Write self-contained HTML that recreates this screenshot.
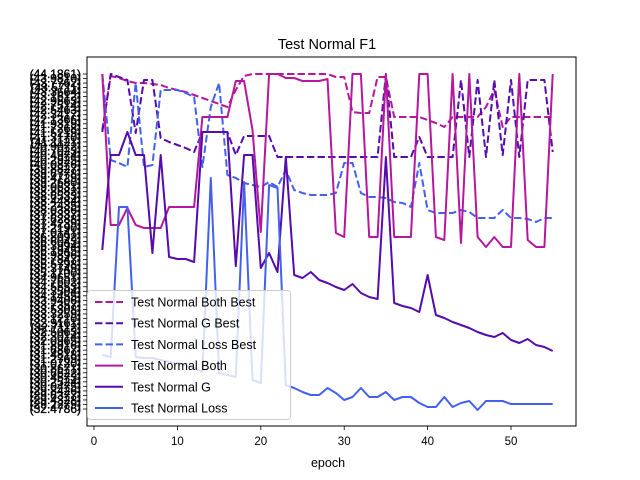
<!DOCTYPE html>
<html><head><meta charset="utf-8"><style>
body{margin:0;background:#fff;}
svg{display:block;font-family:"Liberation Sans","DejaVu Sans",sans-serif;}
</style></head><body>
<svg id="chart" width="640" height="480" viewBox="0 0 640 480">
<rect x="0" y="0" width="640" height="480" fill="#fff"/>
<text x="327" y="49" font-size="14.5" text-anchor="middle">Test Normal F1</text>
<g id="ylab"></g>
<g id="xax"></g>
<g id="plot"></g>
<rect x="87" y="57" width="489" height="369" fill="none" stroke="#000" stroke-width="1"/>
<text x="328" y="467" font-size="12.5" text-anchor="middle">epoch</text>
<g id="legend"></g>
</svg>
<script>
const epochs = [1,2,3,4,5,6,7,8,9,10,11,12,13,14,15,16,17,18,19,20,21,22,23,24,25,26,27,28,29,30,31,32,33,34,35,36,37,38,39,40,41,42,43,44,45,46,47,48,49,50,51,52,53,54,55];
const xTicks = [0,10,20,30,40,50];
// levels measured from bottom category (0 = lowest tick)
const bothBest = [279,333,331,328,326,326,325,324,321,319,317,314,311,308,305,302,319,333,335,335,335,335,335,335,335,335,335,335,332,332,297,296,296,332,332,292,292,292,292,289,286,282,292,292,292,292,302,319,282,292,292,292,292,292,292];
const gBest = [277,335,332,329,276,329,329,271,267,264,261,257,277,277,277,277,254,273,273,273,273,252,252,252,252,252,252,252,252,252,252,252,252,252,335,252,252,252,272,252,252,252,252,329,252,329,252,329,254,329,252,329,329,329,257];
const lossBest = [335,249,246,242,326,242,244,319,319,319,316,312,242,302,326,234,231,226,224,222,227,222,239,219,216,214,214,214,216,246,246,216,212,212,211,207,206,202,246,199,196,196,196,199,197,191,191,191,199,191,191,190,187,191,191];
const both = [335,184,184,201,184,181,181,181,202,202,202,202,292,292,292,292,328,328,279,177,335,335,331,331,328,328,328,330,176,172,335,335,172,172,335,172,172,172,335,335,172,169,335,166,335,172,162,172,162,162,335,169,162,162,335];
const gLine = [159,254,254,277,254,254,156,254,152,150,150,147,277,277,277,277,143,254,254,141,156,137,252,134,131,137,129,126,122,119,125,116,112,110,252,106,103,101,97,134,94,91,87,84,81,77,74,72,76,69,66,70,64,62,58];
const lossLine = [54,52,202,202,52,51,51,49,47,46,44,41,37,231,36,34,32,227,29,26,224,221,24,21,17,14,14,21,16,9,12,21,12,12,17,9,12,12,6,2,2,12,2,6,8,-1,8,8,8,5,5,5,5,5,5];
const yTickLabels = ["44.1861","43.9810","43.7762","43.5711","43.3664","43.1612","42.9563","42.7514","42.5463","42.3417","42.1366","41.9319","41.7268","41.5219","41.3170","41.1121","40.9072","40.7023","40.4974","40.2925","40.0876","39.8827","39.6778","39.4729","39.2680","39.0631","38.8582","38.6533","38.4484","38.2435","38.0386","37.8337","37.6288","37.4239","37.2190","37.0141","36.8092","36.6043","36.3994","36.1945","35.9896","35.7847","35.5798","35.3749","35.1700","34.9651","34.7602","34.5553","34.3504","34.1455","33.9406","33.7357","33.5308","33.3259","33.1210","32.9161","32.7112","32.5063","32.3014","32.0965","31.8916","31.6867","31.4818","31.2769","31.0720","30.8671","30.6622","30.4573","30.2524","30.0475","29.8426","29.6377","29.4328","29.2279","32.4786"];
const NS="http://www.w3.org/2000/svg";
function xs(e){return 94+8.34*e;}
function ys(v){return 409-v;}
function mk(tag,attrs,parent){const el=document.createElementNS(NS,tag);for(const k in attrs)el.setAttribute(k,attrs[k]);parent.appendChild(el);return el;}
const ylab=document.getElementById('ylab');
const n=yTickLabels.length;
yTickLabels.forEach((t,i)=>{
  const y=74+i*(335/(n-1));
  const tk=mk('line',{x1:83,x2:87,y1:y,y2:y,stroke:'#000','stroke-width':0.8},ylab);
  
  
  const tx=mk('text',{x:81,y:y+4,'font-size':12,'text-anchor':'end',stroke:'#000','stroke-width':0.35},ylab);
  tx.textContent='('+t+')';
  
  
});
const xax=document.getElementById('xax');
xTicks.forEach(t=>{
  const x=xs(t);
  const tk=mk('line',{x1:x,x2:x,y1:426,y2:430,stroke:'#000','stroke-width':0.8},xax);
  
  
  const tx=mk('text',{x:x,y:445,'font-size':11.5,'text-anchor':'middle'},xax);
  tx.textContent=String(t);
  
  
});
const series=[
  {name:'Test Normal Both Best',data:bothBest,color:'#b5179e',dash:'7.4,3.2',key:'both-best'},
  {name:'Test Normal G Best',data:gBest,color:'#560bad',dash:'7.4,3.2',key:'g-best'},
  {name:'Test Normal Loss Best',data:lossBest,color:'#4361ee',dash:'7.4,3.2',key:'loss-best'},
  {name:'Test Normal Both',data:both,color:'#b5179e',dash:'',key:'both'},
  {name:'Test Normal G',data:gLine,color:'#560bad',dash:'',key:'g'},
  {name:'Test Normal Loss',data:lossLine,color:'#4361ee',dash:'',key:'loss'}
];
const plot=document.getElementById('plot');
series.forEach(s=>{
  const pts=s.data.map((v,i)=>xs(epochs[i]).toFixed(1)+','+ys(v).toFixed(1)).join(' ');
  const pl=mk('polyline',{points:pts,fill:'none',stroke:s.color,'stroke-width':2,'stroke-linejoin':'round'},plot);
  if(s.dash)pl.setAttribute('stroke-dasharray',s.dash);
  
  
});
const lg=document.getElementById('legend');
const box=mk('rect',{x:87.5,y:290.5,width:203,height:129,rx:3,fill:'#fff','fill-opacity':0.8,stroke:'#ccc'},lg);


series.forEach((s,i)=>{
  const y=302+i*21.2;
  const ln=mk('line',{x1:95,x2:123,y1:y,y2:y,stroke:s.color,'stroke-width':2},lg);
  if(s.dash)ln.setAttribute('stroke-dasharray',s.dash);
  
  
  const tx=mk('text',{x:131,y:y+4.5,'font-size':12.5},lg);
  tx.textContent=s.name;
  
  
});
</script>
</body></html>
